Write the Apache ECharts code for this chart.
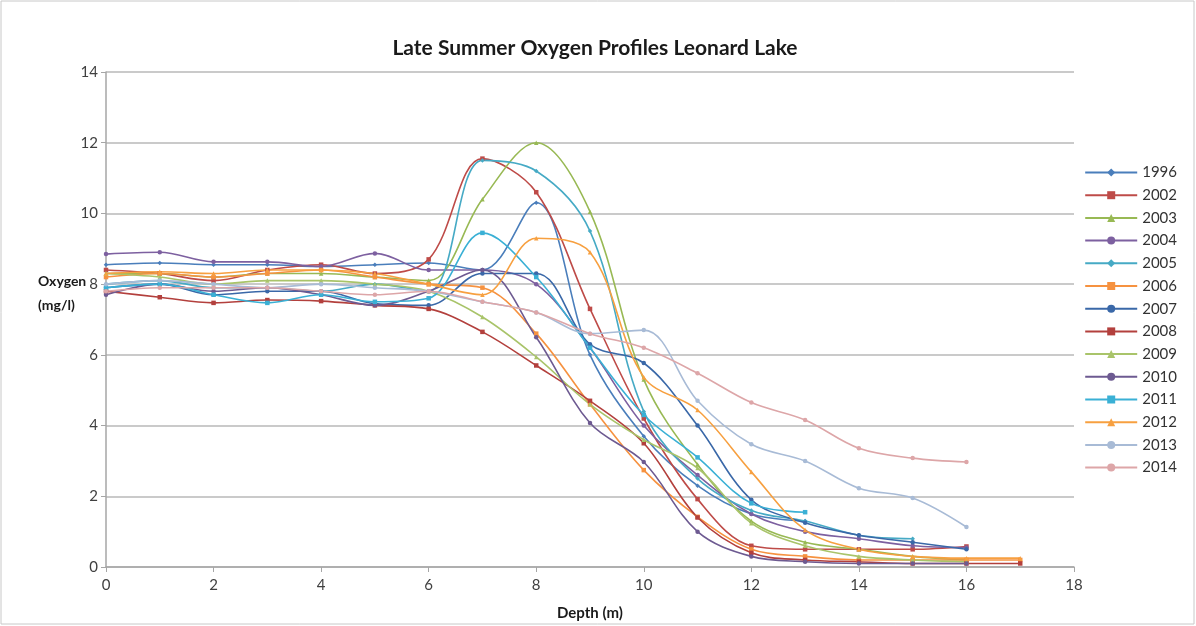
<!DOCTYPE html>
<html><head><meta charset="utf-8">
<script src="https://cdn.jsdelivr.net/npm/echarts@6/dist/echarts.min.js"></script>
<style>html,body{margin:0;padding:0;background:#fff}#c{width:1196px;height:626px}</style>
</head><body><div id="c"></div>
<script>
const depths = [0,1,2,3,4,5,6,7,8,9,10,11,12,13,14,15,16,17];
const years = ['1996','2002','2003','2004','2005','2006','2007','2008','2009','2010','2011','2012','2013','2014'];
const o1996 = [8.55,8.6,8.55,8.55,8.5,8.55,8.6,8.4,10.3,6.0,3.7,2.3,1.5,1.3];
const o2002 = [8.4,8.3,8.1,8.4,8.55,8.3,8.7,11.55,10.6,7.3,4.2,1.92,0.6,0.5,0.5,0.5,0.58];
const o2003 = [8.3,8.3,8.2,8.3,8.3,8.2,8.1,10.4,12.0,10.05,5.3,2.9,1.3,0.7,0.5,0.3,0.2];
const o2004 = [8.85,8.9,8.63,8.63,8.5,8.87,8.4,8.4,8.0,6.2,4.0,2.6,1.5,1.0,0.8,0.6,0.55];
const o2005 = [8.0,8.1,7.9,7.9,7.8,8.0,7.8,11.5,11.2,9.5,4.4,2.5,1.6,1.3,0.9,0.8];
const o2006 = [8.2,8.3,8.2,8.3,8.4,8.2,8.0,7.9,6.6,4.6,2.74,1.42,0.5,0.3,0.2,0.2,0.2,0.2];
const o2007 = [7.9,8.0,7.7,7.8,7.8,7.45,7.4,8.3,8.3,6.3,5.77,4.0,1.9,1.25,0.9,0.7,0.5];
const o2008 = [7.8,7.63,7.47,7.55,7.52,7.4,7.3,6.65,5.7,4.7,3.5,1.4,0.4,0.2,0.15,0.1,0.1,0.1];
const o2009 = [8.3,8.2,8.0,8.1,8.1,8.0,7.8,7.07,5.94,4.6,3.6,2.8,1.24,0.6,0.3,0.2,0.15];
const o2010 = [7.7,8.0,7.8,7.9,7.7,7.4,7.8,8.4,6.5,4.07,2.97,1.0,0.3,0.15,0.1,0.1,0.1];
const o2011 = [7.9,8.0,7.7,7.47,7.7,7.5,7.6,9.45,8.2,6.2,4.3,3.1,1.8,1.55];
const o2012 = [8.3,8.35,8.3,8.4,8.4,8.3,8.0,7.7,9.3,8.9,5.37,4.44,2.69,1.05,0.5,0.3,0.25,0.25];
const o2013 = [8.0,8.1,8.0,7.9,8.0,7.9,7.8,7.5,7.2,6.6,6.7,4.7,3.47,3.0,2.23,1.95,1.13];
const o2014 = [7.8,7.9,7.9,7.9,7.8,7.7,7.8,7.5,7.2,6.6,6.2,5.48,4.65,4.16,3.36,3.08,2.97];
const xTicks = [0,2,4,6,8,10,12,14,16,18];
const yTicks = [0,2,4,6,8,10,12,14];

const values = [o1996,o2002,o2003,o2004,o2005,o2006,o2007,o2008,o2009,o2010,o2011,o2012,o2013,o2014];
const colors = ['#4A7EBB','#BE4B48','#98B954','#7D60A0','#46AAC5','#F69240','#3A68A8','#B3403D','#A9C46A','#6D5A91','#3AB0D5','#F7A040','#A8BBD6','#DDA6A8'];
const symbols = ['diamond','rect','triangle','circle','diamond','rect','circle','rect','triangle','circle','rect','triangle','circle','circle'];

const chart = echarts.init(document.getElementById('c'), null, {renderer:'canvas'});
const series = years.map((y,i)=>({
  name: y, type: 'line', smooth: 0.35,
  data: values[i].map((v,j)=>[depths[j], v]),
  symbol: symbols[i], symbolSize: 4.5, showSymbol: true,
  lineStyle: {width: 1.6, color: colors[i]},
  itemStyle: {color: colors[i]},
  emphasis: {disabled: true}
}));
const font = 'Lato, "Open Sans", sans-serif';
chart.setOption({
  animation: false,
  color: colors,
  title: {text: 'Late Summer Oxygen Profiles Leonard Lake', left: 590, top: 33, textAlign: 'center',
    textStyle: {fontFamily: font, fontSize: 21, fontWeight: 'bold', color: '#1a1a1a'}},
  grid: {left: 106, right: 122, top: 72, bottom: 59},
  legend: {orient: 'vertical', right: 14, top: 160, itemGap: 7.7, itemWidth: 52, itemHeight: 10,
    data: years, textStyle: {fontFamily: font, fontSize: 15, color: '#333'}},
  xAxis: {type: 'value', min: 0, max: 18, interval: 2,
    name: 'Depth (m)', nameLocation: 'middle', nameGap: 39,
    nameTextStyle: {fontFamily: font, fontSize: 15, fontWeight: 'bold', color: '#1a1a1a'},
    axisLine: {show: true, lineStyle: {color: '#A6A6A6', width: 1.5}},
    axisTick: {show: true, length: 5, lineStyle: {color: '#A6A6A6'}},
    axisLabel: {fontFamily: font, fontSize: 15, color: '#404040', margin: 11,
      formatter: v => xTicks.includes(v) ? String(v) : ''},
    splitLine: {show: false}},
  yAxis: {type: 'value', min: 0, max: 14, interval: 2,
    axisLine: {show: true, lineStyle: {color: '#A6A6A6', width: 1.5}},
    axisTick: {show: true, length: 5, inside: false, lineStyle: {color: '#A6A6A6'}},
    axisLabel: {fontFamily: font, fontSize: 15, color: '#404040', margin: 8,
      formatter: v => yTicks.includes(v) ? String(v) : ''},
    splitLine: {show: true, lineStyle: {color: '#B8B8B8', width: 1.5}}},
  graphic: [
    {type: 'text', left: 38, top: 269, style: {text: 'Oxygen\n(mg/l)', fontFamily: font, fontSize: 14, fontWeight: 'bold', fill: '#1a1a1a', lineHeight: 24, align: 'center'}},
    {type: 'rect', shape: {x: 1, y: 1, width: 1193, height: 623}, style: {fill: 'none', stroke: '#C8C8C8', lineWidth: 1}, silent: true}
  ],
  series: series
});
</script></body></html>
